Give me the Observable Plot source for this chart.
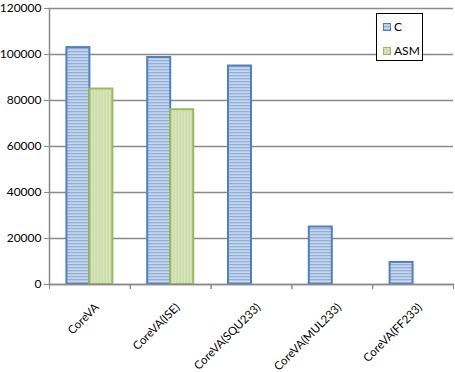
<!DOCTYPE html>
<html><head><meta charset="utf-8">
<script src="https://cdn.jsdelivr.net/npm/d3@7"></script>
<script src="https://cdn.jsdelivr.net/npm/@observablehq/plot@0.6"></script>
<style>
body{margin:0;background:#fff;font-family:Lato,"Liberation Sans",sans-serif}
#wrap{position:relative;width:455px;height:372px}
#legend{position:absolute;left:376px;top:13px;width:45px;height:46px;border:1px solid #000;background:#fff;font-size:12px;color:#000}
.item{position:absolute;left:6px;display:flex;align-items:center}
.item svg{margin-right:3px}
</style>
</head><body>
<svg width="0" height="0" style="position:absolute">
 <defs>
  <pattern id="patC" patternUnits="userSpaceOnUse" width="3" height="3">
   <rect width="3" height="3" fill="#C6D6EC"></rect>
   <rect y="0" width="3" height="1.3" fill="#93AFD8"></rect>
  </pattern>
  <pattern id="patA" patternUnits="userSpaceOnUse" width="3" height="3">
   <rect width="3" height="3" fill="#DCE8C4"></rect>
   <rect x="0" width="1.3" height="3" fill="#C2D69B"></rect>
  </pattern>
 </defs>
</svg>
<div id="wrap"></div>
<script>
const categories = ["CoreVA","CoreVA(ISE)","CoreVA(SQU233)","CoreVA(MUL233)","CoreVA(FF233)"];
const seriesNames = ["C","ASM"];
const valuesC = [103000, 98700, 95000, 25000, 9600];
const valuesASM = [85000, 76000, null, null, null];
const yTicks = [0, 20000, 40000, 60000, 80000, 100000, 120000];

const colors = {C:{fill:"url(#patC)",stroke:"#4F81BD"}, ASM:{fill:"url(#patA)",stroke:"#9BBB59"}};

const W=455,H=372,mL=49,mR=2,mT=8,mB=88;
const band=(W-mL-mR)/categories.length;
const barW=23;
const inset=(band-barW)/2;

const dataC = categories.map((c,i)=>({cat:c,v:valuesC[i]})).filter(d=>d.v!=null);
const dataA = categories.map((c,i)=>({cat:c,v:valuesASM[i]})).filter(d=>d.v!=null);

const chart = Plot.plot({
  width:W,height:H,marginLeft:mL,marginRight:mR,marginTop:mT,marginBottom:mB,
  style:{fontFamily:"Lato, 'Liberation Sans', sans-serif",fontSize:"12px",color:"#000",background:"#fff"},
  x:{domain:categories,padding:0,round:false,label:null,axis:null},
  y:{domain:[0,120000],label:null},
  marks:[
    Plot.ruleY(yTicks,{stroke:"#8a8a8a",strokeWidth:1.5}),
    Plot.barY(dataC,{x:"cat",y:"v",fill:colors.C.fill,stroke:colors.C.stroke,strokeWidth:2,insetLeft:inset,insetRight:inset,dx:-barW/2}),
    Plot.barY(dataA,{x:"cat",y:"v",fill:colors.ASM.fill,stroke:colors.ASM.stroke,strokeWidth:2,insetLeft:inset,insetRight:inset,dx:barW/2}),
    Plot.frame({anchor:"left",stroke:"#8a8a8a",strokeWidth:1.5}),
    Plot.frame({anchor:"bottom",stroke:"#8a8a8a",strokeWidth:1.5}),
    Plot.axisY({ticks:yTicks,tickSize:5,stroke:"#8a8a8a",tickPadding:3,tickFormat:d3.format("d"),fill:"#000",fontSize:12,label:null}),
    Plot.text(categories,{x:d=>d,frameAnchor:"bottom",dx:7,dy:21,rotate:-45,textAnchor:"end",lineAnchor:"middle",fill:"#000",fontSize:11.5}),
    Plot.axisX({tickSize:5,text:null,dx:-band/2,stroke:"#8a8a8a",label:null}),
    Plot.axisX({tickSize:5,text:null,dx:band/2,stroke:"#8a8a8a",label:null})
  ]
});
const wrap=document.getElementById("wrap");
wrap.appendChild(chart);

const leg=document.createElement("div");
leg.id="legend";
seriesNames.forEach((s,i)=>{
  const it=document.createElement("div");
  it.className="item";
  it.style.top=(i===0?5:29)+"px";
  it.innerHTML=`<svg width="8" height="8"><rect x="0.5" y="0.5" width="7" height="7" fill="${colors[s].fill}" stroke="${colors[s].stroke}" stroke-width="1"></rect></svg><span>${s}</span>`;
  leg.appendChild(it);
});
wrap.appendChild(leg);
</script>
</body></html>
